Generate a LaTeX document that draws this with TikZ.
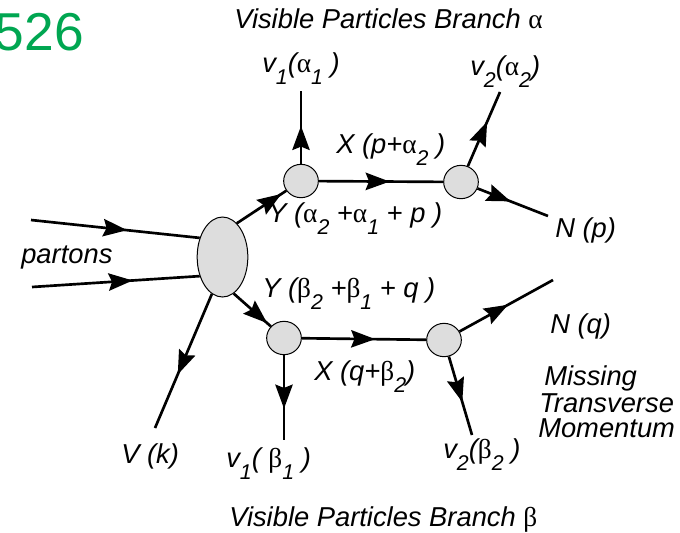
\documentclass[tikz,border=0pt]{standalone}
\usepackage{fontspec}
\setmainfont{Liberation Sans}
\newfontfamily\grkfont{Liberation Serif}
\usetikzlibrary{arrows.meta,shapes.geometric,decorations.markings}
\definecolor{numgreen}{RGB}{0,166,81}
\definecolor{blobgray}{RGB}{221,221,221}
\newcommand{\ga}{{\grkfont\upshape α}}
\newcommand{\gb}{{\grkfont\upshape β}}
\newcommand{\lo}[1]{\raisebox{-9pt}{\fontsize{16}{16}\selectfont #1}}
\tikzset{
  leg/.style={line width=2pt},
  flow/.style={leg, decoration={markings, mark=at position #1 with {\arrow{Stealth[length=18pt,width=13pt,inset=2.5pt]}}}, postaction={decorate}},
  flow/.default=0.55,
  vtx/.style={ellipse, draw, line width=0.75pt, fill=blobgray, minimum width=26pt, minimum height=25pt, inner sep=0pt},
  blob/.style={vtx, minimum width=38pt, minimum height=60pt},
  lbl/.style={font=\fontsize{20.5}{24}\selectfont\itshape, inner sep=0pt, anchor=base west},
}

\begin{document}
\begin{tikzpicture}[x=0.75pt, y=-0.75pt]
  \useasboundingbox (0,0) rectangle (680,532);
  % core and the decay vertices
  \node[blob] (core) at (222.5,257) {};
  \node[vtx] (a1) at (301,181) {};
  \node[vtx] (a2) at (461,182) {};
  \node[vtx] (b1) at (284,338) {};
  \node[vtx] (b2) at (444,340) {};
  % loose ends of the legs
  \coordinate (pin1) at (31,220);
  \coordinate (pin2) at (32,287);
  \coordinate (va1) at (301,91);
  \coordinate (va2) at (500,92);
  \coordinate (np) at (548,216);
  \coordinate (vk) at (155,428);
  \coordinate (vb1) at (284,440);
  \coordinate (nq) at (553,280);
  \coordinate (vb2) at (472,435);
  % legs
  \draw[flow=0.57] (pin1) -- (core.140);
  \draw[flow=0.6] (pin2) -- (core.-140);
  \draw[flow=0.9] (core.67) -- (a1);
  \draw[flow=0.52] (a1) -- (va1);
  \draw[flow=0.57] (a1) -- (a2);
  \draw[flow=0.6] (a2) -- (va2);
  \draw[flow=0.47] (a2) -- (np);
  \draw[flow=0.9] (core.-73) -- (b1);
  \draw[flow=0.6] (core.-106) -- (vk);
  \draw[flow=0.63] (b1) -- (vb1);
  \draw[flow=0.59] (b1) -- (b2);
  \draw[flow=0.52] (b2) -- (nq);
  \draw[flow=0.58] (b2) -- (vb2);
  % labels
  \node[font=\fontsize{40}{40}\selectfont, text=numgreen, anchor=base east, inner sep=0pt] (pnum) at (84,50) {526};
  \node[lbl] (ttlA) at (234,28) {Visible Particles Branch \ga};
  \node[lbl] (lv1a) at (262,72) {v\lo{1}(\ga\lo{1} )};
  \node[lbl] (lv2a) at (470,75) {v\lo{2}(\ga\lo{2})};
  \node[lbl] (lXp) at (336,153) {X (p+\ga\lo{2} )};
  \node[lbl] (lYa) at (268,222) {Y (\ga\lo{2} +\ga\lo{1} + p )};
  \node[lbl] (lNp) at (555,237) {N (p)};
  \node[lbl] (lprt) at (21,263) {partons};
  \node[lbl] (lYb) at (262,297) {Y (\gb\lo{2} +\gb\lo{1} + q )};
  \node[lbl] (lNq) at (550,333) {N (q)};
  \node[lbl] (lXq) at (314,380) {X (q+\gb\lo{2})};
  \node[lbl] (lmis1) at (544,385) {Missing};
  \node[lbl] (lmis2) at (539,412) {Transverse};
  \node[lbl] (lmis3) at (538,437) {Momentum};
  \node[lbl] (lVk) at (121,463) {V (k)};
  \node[lbl] (lv1b) at (226,467) {v\lo{1}( \gb\lo{1} )};
  \node[lbl] (lv2b) at (443,458) {v\lo{2}(\gb\lo{2} )};
  \node[lbl] (ttlB) at (229,526) {Visible Particles Branch \gb};
\end{tikzpicture}
\end{document}
